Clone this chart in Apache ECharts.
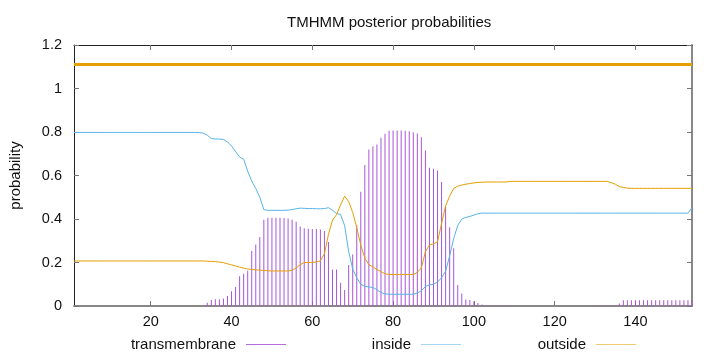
<!DOCTYPE html>
<html>
<head>
<meta charset="utf-8">
<title>TMHMM posterior probabilities</title>
<script src="https://cdn.jsdelivr.net/npm/echarts@6/dist/echarts.min.js"></script>
<style>
  html, body { margin: 0; padding: 0; background: #fff; }
  #main { width: 720px; height: 352px; }
</style>
</head>
<body>
<div id="main"></div>
<script>
// residue positions run 1..154
var firstPos = 1;
var lastPos = 154;

// transmembrane posterior (impulses), one value per residue
var transmembrane = [
  0,0,0,0,0,0,0,0,0,0, 0,0,0,0,0,0,0,0,0,0, 0,0,0,0,0,0,0,0,0,0, 0,0,0,
  0.015,0.028,0.031,0.031,0.034,0.046,0.068,0.087,0.137,0.148,0.162,0.253,0.283,0.317,
  0.397,0.406,0.406,0.406,0.406,0.405,0.402,0.397,0.387,0.366,0.357,0.355,0.354,0.354,0.352,0.345,0.294,
  0.168,0.168,0.107,0.074,0.188,0.237,0.371,0.525,0.648,0.72,0.735,0.743,0.773,0.792,0.806,0.807,
  0.807,0.807,0.806,0.804,0.799,0.793,0.776,0.715,0.636,0.631,0.623,0.57,0.458,0.362,0.265,0.097,
  0.057,0.03,0.028,0.021,0.014,0.007,0.002,0.002,0.002,0.002,0.002,0.002,0.002,
  0,0,0,0,0,0,0,0,0,0, 0,0,0,0,0,0,0,0,0,0, 0,
  0.002,0.002,0.002,0.002,0.002,
  0.012,
  0.027,0.027,0.027,0.027,0.027,0.027,0.027,0.027,0.027,0.027,0.027,0.027,0.027,0.027,0.027,0.027,0.027,0.027
];

// inside posterior
var inside = [
  0.798,0.798,0.798,0.798,0.798,0.798,0.798,0.798,0.798,0.798,
  0.798,0.798,0.798,0.798,0.798,0.798,0.798,0.798,0.798,0.798,
  0.798,0.798,0.798,0.798,0.798,0.798,0.798,0.798,0.798,0.798,0.798,
  0.797,0.795,0.785,0.77,0.768,0.768,0.765,0.755,0.735,0.71,0.685,0.675,0.62,0.575,0.54,0.5,
  0.443,0.44,0.44,0.44,0.44,0.44,0.441,0.443,0.447,0.45,0.449,0.448,0.448,0.447,0.447,0.448,0.452,
  0.44,0.425,0.421,0.37,0.25,0.17,0.13,0.1,0.09,0.088,0.085,0.075,0.062,0.056,0.054,
  0.054,0.054,0.054,0.054,0.054,0.054,
  0.06,0.07,0.09,0.097,0.1,0.11,0.13,0.16,0.23,0.31,0.37,0.4,0.407,0.412,0.418,0.424,
  0.427,0.427,0.427,0.427,0.427,0.427,0.427,0.427,0.427,0.427,
  0.427,0.427,0.427,0.427,0.427,0.427,0.427,0.427,0.427,0.427,
  0.427,0.427,0.427,0.427,0.427,0.427,0.427,0.427,0.427,0.427,
  0.427,0.427,0.427,0.427,0.427,0.427,0.427,0.427,0.427,0.427,
  0.427,0.427,0.427,0.427,0.427,0.427,0.427,0.427,0.427,0.427,
  0.427,0.427,
  0.452
];

// outside posterior
var outside = [
  0.207,0.207,0.207,0.207,0.207,0.207,0.207,0.207,0.207,0.207,
  0.207,0.207,0.207,0.207,0.207,0.207,0.207,0.207,0.207,0.207,
  0.207,0.207,0.207,0.207,0.207,0.207,0.207,0.207,0.207,0.207,
  0.207,0.207,0.207,
  0.206,0.205,0.204,0.202,0.199,0.194,0.189,0.184,0.179,0.174,0.17,0.168,0.166,0.165,0.163,0.162,
  0.161,0.161,0.161,0.161,0.161,
  0.165,0.175,0.19,0.2,0.2,0.201,0.202,0.208,0.24,0.33,0.395,0.42,0.465,0.505,0.48,0.43,
  0.36,0.28,0.22,0.19,0.18,0.168,0.158,0.148,0.145,
  0.145,0.145,0.145,0.145,0.145,0.145,
  0.155,0.175,0.25,0.28,0.286,0.295,0.38,0.46,0.505,0.54,0.551,0.556,0.56,0.563,0.566,0.568,0.569,
  0.57,0.57,0.57,0.57,0.57,0.57,
  0.573,0.573,0.573,0.573,0.573,0.573,0.573,0.573,0.573,0.573,
  0.573,0.573,0.573,0.573,0.573,0.573,0.573,0.573,0.573,0.573,
  0.573,0.573,0.573,0.573,0.573,
  0.567,0.56,0.549,0.545,0.542,
  0.541,0.541,0.541,0.541,0.541,0.541,0.541,0.541,
  0.541,0.541,0.541,0.541,0.541,0.541,0.541,0.541
];

// predicted topology bar drawn above the plot (whole sequence outside)
var topologyX = [1, 154];
var topologyY = [1.11, 1.11];

var xTicks = [20, 40, 60, 80, 100, 120, 140];
var yMin = 0, yMax = 1.2, yStep = 0.2;

var fontName = '"Liberation Sans", Arial, sans-serif';
var colTM = '#a855d8';
var colIn = '#56b4e9';
var colOut = '#e69f00';

function pairs(vals) {
  var out = [];
  for (var i = 0; i < vals.length; i++) {
    out.push([firstPos + i, vals[i]]);
  }
  return out;
}

var topoData = [];
for (var k = 0; k < topologyX.length; k++) topoData.push([topologyX[k], topologyY[k]]);

var tickStyle = {show: true, inside: true, length: 5, lineStyle: {color: '#777', width: 1}};

function xAxisDef(pos, lineColor, lineWidth, showLabels) {
  return {
    type: 'value', position: pos, min: firstPos, max: lastPos,
    axisLine: {show: true, onZero: false, lineStyle: {color: lineColor, width: lineWidth}},
    axisTick: Object.assign({customValues: xTicks}, tickStyle),
    axisLabel: {show: showLabels, customValues: xTicks, color: '#111', fontSize: 14.5, fontFamily: fontName, margin: 8},
    splitLine: {show: false}
  };
}

function yAxisDef(pos, lineColor, lineWidth, showLabels) {
  return {
    type: 'value', position: pos, min: yMin, max: yMax, interval: yStep,
    axisLine: {show: true, onZero: false, lineStyle: {color: lineColor, width: lineWidth}},
    axisTick: tickStyle,
    axisLabel: {show: showLabels, color: '#111', fontSize: 14.5, fontFamily: fontName, margin: 12},
    splitLine: {show: false}
  };
}

var yLeft = yAxisDef('left', '#222', 1, true);
yLeft.name = 'probability';
yLeft.nameLocation = 'middle';
yLeft.nameGap = 51;
yLeft.nameTextStyle = {color: '#111', fontSize: 15, fontFamily: fontName};

function legendFor(name, right, fade) {
  return {
    data: [name], right: right, top: 332, align: 'right',
    icon: 'rect', itemWidth: 40, itemHeight: 1,
    itemStyle: {opacity: fade},
    textStyle: {color: '#111', fontSize: 15, fontFamily: fontName, padding: [0, 5, 0, 0]}
  };
}

var myChart = echarts.init(document.getElementById('main'));
myChart.setOption({
  animation: false,
  backgroundColor: '#fff',
  title: {
    text: 'TMHMM posterior probabilities',
    left: 282, top: 10,
    textStyle: {color: '#111', fontSize: 15, fontWeight: 'normal', fontFamily: fontName}
  },
  legend: [
    legendFor('transmembrane', 429, 0.85),
    legendFor('inside', 254, 0.55),
    legendFor('outside', 79, 0.55)
  ],
  grid: {left: 73, right: 28, top: 45, bottom: 46, containLabel: false},
  xAxis: [
    xAxisDef('bottom', '#888', 2, true),
    xAxisDef('top', '#222', 1, false)
  ],
  yAxis: [
    yLeft,
    yAxisDef('right', '#888', 2, false)
  ],
  series: [
    {
      name: 'transmembrane', type: 'bar', barWidth: 1,
      itemStyle: {color: colTM},
      data: pairs(transmembrane)
    },
    {
      name: 'inside', type: 'line', showSymbol: false, symbol: 'none',
      itemStyle: {color: colIn}, lineStyle: {color: colIn, width: 1},
      data: pairs(inside)
    },
    {
      name: 'outside', type: 'line', showSymbol: false, symbol: 'none',
      itemStyle: {color: colOut}, lineStyle: {color: colOut, width: 1},
      data: pairs(outside)
    },
    {
      name: 'topology', type: 'line', showSymbol: false, symbol: 'none',
      lineStyle: {color: colOut, width: 3},
      data: topoData
    }
  ]
});
</script>
</body>
</html>
